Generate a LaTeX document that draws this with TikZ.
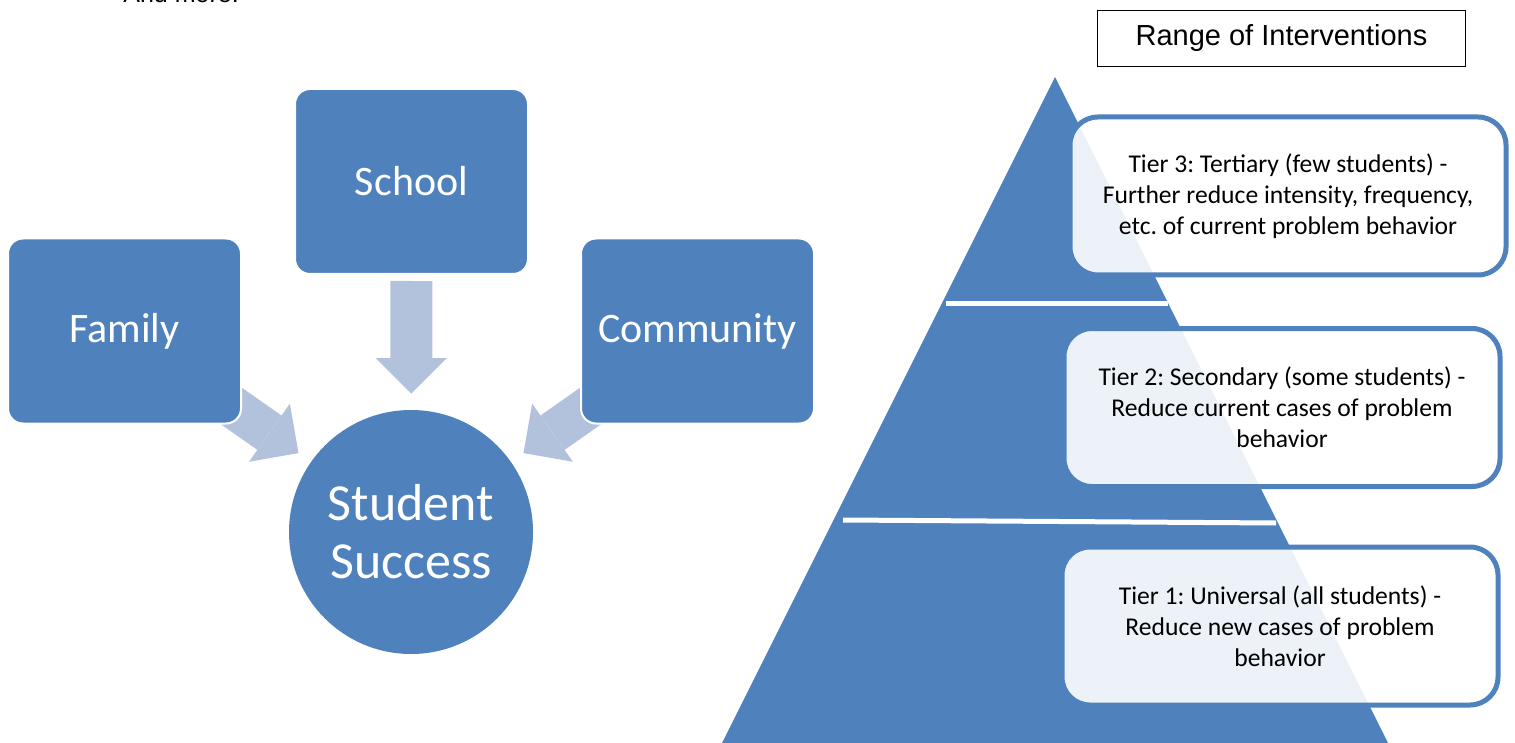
\documentclass[tikz,border=0pt]{standalone}
\usepackage{fontspec}
\setmainfont{Carlito}
\newfontfamily\arialfont{Liberation Sans}
\usetikzlibrary{arrows.meta,backgrounds}
\definecolor{boxblue}{HTML}{4F81BD}
\definecolor{arrowblue}{HTML}{B3C2DC}
\frenchspacing

\begin{document}
\begin{tikzpicture}[x=0.5pt,y=-0.5pt,
	block/.style={rectangle, rounded corners=7.5pt, fill=boxblue, draw=white, line width=1pt, text=white, minimum width=116.5pt, minimum height=92.5pt, font=\fontsize{21}{25}\selectfont},
	push/.style={arrowblue, line width=21pt, -{Triangle[width=35.5pt,length=17.75pt,line width=0pt]}},
	tier/.style={rectangle, rounded corners=14pt, draw=boxblue, line width=2.5pt, fill=white, fill opacity=0.9, text opacity=1, align=center, minimum width=218pt, minimum height=79pt, font=\fontsize{12.8}{15.5}\selectfont},
	gap/.style={white, line width=2.5pt}]
	\useasboundingbox (0,0) rectangle (1515,743);

	% list item cut at the top
	\node[font=\arialfont\fontsize{12.5}{15}\selectfont, anchor=base, inner sep=0] (bullet) at (80,3) {•};
	\node[font=\arialfont\fontsize{12.5}{15}\selectfont, anchor=base west, inner sep=0] (more) at (123,3) {And more.};

	% circle of support
	\node[block] (school) at (411.5,181.5) {School};
	\node[block] (family) at (124.5,331) {Family};
	\node[block] (community) at (697.5,331) {Community};
	\node[circle, fill=boxblue, minimum size=122pt, inner sep=0, text=white, align=center, font=\fontsize{26}{29}\selectfont] (success) at (411,532) {Student\\Success};

	\begin{scope}[on background layer]
		\draw[push, shorten <=3pt, shorten >=8pt] (school) -- (success);
		\draw[push, shorten <=49pt, shorten >=7.5pt] (family.center) -- (success);
		\draw[push, shorten <=49pt, shorten >=7.5pt] (community.center) -- (success);
	\end{scope}

	% pyramid
	\fill[boxblue] (1055,77) -- (1388,743) -- (722,743) -- cycle;
	\draw[gap] (946,304) -- (1168,304);
	\draw[gap] (843,520) -- (1276,523);

	\node[draw=black, line width=0.5pt, minimum width=184pt, minimum height=28pt, font=\arialfont\fontsize{14.5}{17}\selectfont] (range) at (1281.5,38.5) {Range of Interventions};

	\node[tier] (tier3) at (1288,196) {Tier 3: Tertiary (few students) -\\Further reduce intensity, frequency,\\etc. of current problem behavior};
	\node[tier] (tier2) at (1282,407.5) {Tier 2: Secondary (some students) -\\Reduce current cases of problem\\behavior};
	\node[tier] (tier1) at (1280,626) {Tier 1: Universal (all students) -\\Reduce new cases of problem\\behavior};
\end{tikzpicture}
\end{document}
